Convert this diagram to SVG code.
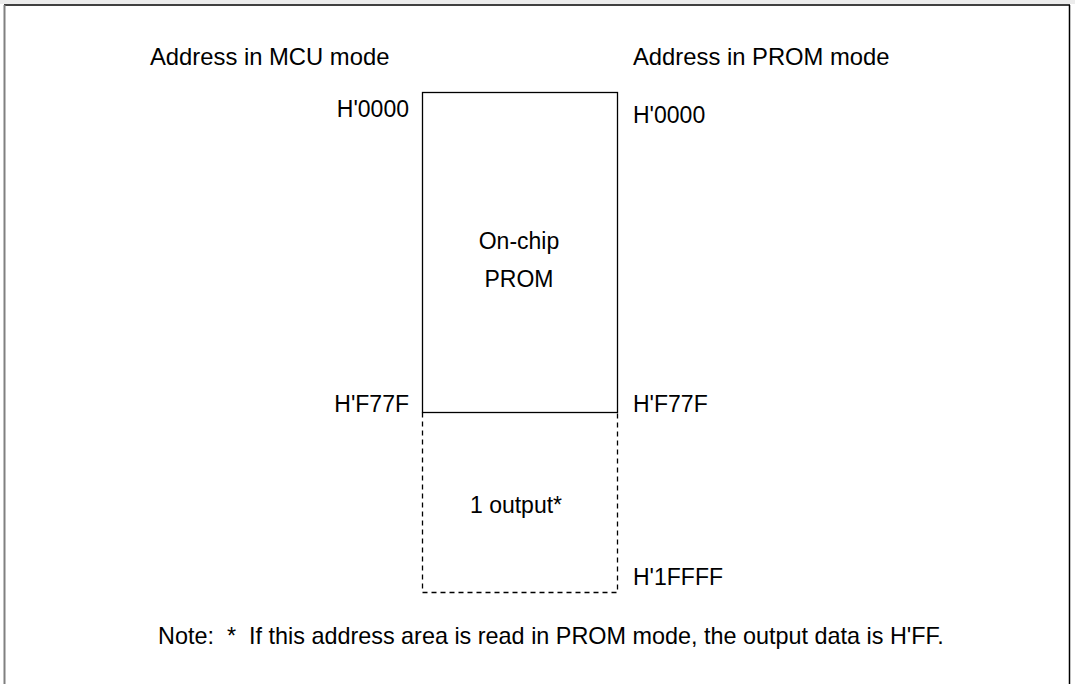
<svg xmlns="http://www.w3.org/2000/svg" width="1075" height="684" viewBox="0 0 1075 684">
<style>
text{font-family:"Liberation Sans",Arial,sans-serif;font-size:23px;fill:#000}
.hdr{font-size:23.8px}
.note{font-size:23.4px}
.solid{fill:none;stroke:#000;stroke-width:1.3}
.dash{fill:none;stroke:#000;stroke-width:1.3;stroke-dasharray:5 4}
</style>
<rect x="0" y="0" width="1075" height="684" fill="#fff"/>
<rect x="0" y="0" width="1075" height="4" fill="#ececec"/>
<g id="frame">
<line x1="4" y1="5" x2="1070" y2="5" stroke="#000" stroke-width="1.5"/>
<line x1="4.5" y1="5" x2="4.5" y2="684" stroke="#808080" stroke-width="2"/>
<line x1="1069.5" y1="5" x2="1069.5" y2="684" stroke="#000" stroke-width="1.5"/>
</g>
<g id="headers">
<text class="hdr" x="150" y="65">Address in MCU mode</text>
<text class="hdr" x="633" y="65">Address in PROM mode</text>
</g>
<g id="prom">
<rect class="solid" x="422.5" y="92.5" width="195" height="320"/>
<text x="519" y="249" text-anchor="middle">On-chip</text>
<text x="519" y="287" text-anchor="middle">PROM</text>
</g>
<g id="output-area">
<path class="dash" d="M422.5,412.5 V592.5 H617.5 V412.5"/>
<text x="516" y="513" text-anchor="middle">1 output*</text>
</g>
<g id="addresses">
<text x="409" y="117" text-anchor="end">H'0000</text>
<text x="633" y="123">H'0000</text>
<text x="409" y="412" text-anchor="end">H'F77F</text>
<text x="633" y="412">H'F77F</text>
<text x="633" y="585">H'1FFFF</text>
</g>
<g id="connectors"></g>
<g id="note">
<text class="note" x="158" y="644" xml:space="preserve">Note:  *  If this address area is read in PROM mode, the output data is H'FF.</text>
</g>
</svg>
